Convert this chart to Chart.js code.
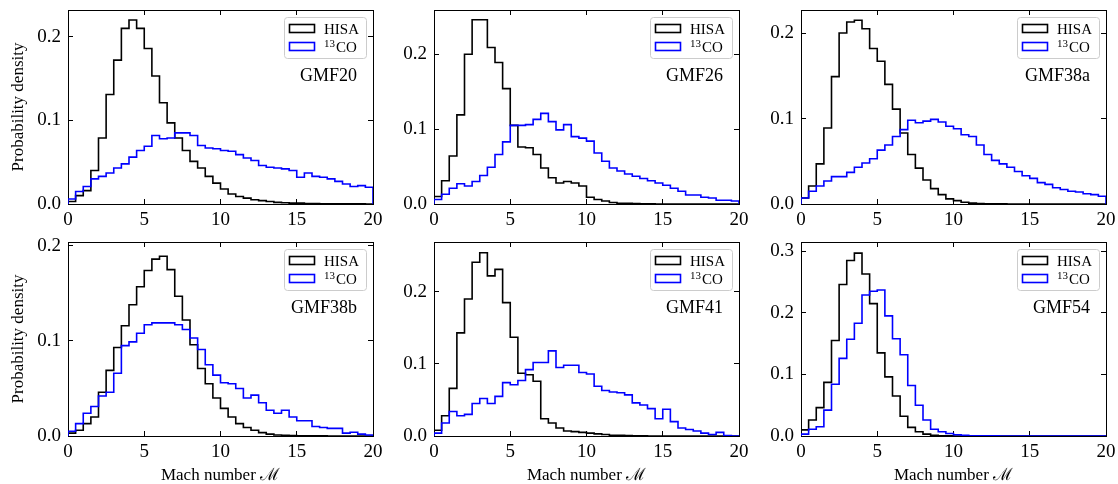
<!DOCTYPE html>
<html>
<head>
<meta charset="utf-8">
<script src="https://cdn.jsdelivr.net/npm/chart.js@4.4.1/dist/chart.umd.min.js"></script>
<style>
  html, body { margin: 0; padding: 0; background: #fff; }
  body { width: 1118px; height: 484px; position: relative; overflow: hidden; }
  canvas { position: absolute; }
</style>
</head>
<body>
<script>
// histogram bins: 40 bins of width 0.5 over Mach number 0..20
const binWidth = 0.5;
const panelNames = ["GMF20", "GMF26", "GMF38a", "GMF38b", "GMF41", "GMF54"];
const seriesLabels = ["HISA", "13CO"];
const xTickStep = 5;
const yTickStep = 0.1;
const yMaxes = [0.232, 0.259, 0.227, 0.204, 0.269, 0.315];

const hisaGMF20 = [0.003, 0.010, 0.016, 0.040, 0.079, 0.131, 0.172, 0.210, 0.220, 0.210, 0.186, 0.153, 0.121, 0.097, 0.079, 0.064, 0.051, 0.043, 0.033, 0.025, 0.018, 0.012, 0.009, 0.007, 0.005, 0.004, 0.003, 0.002, 0.0015, 0.001, 0.001, 0.0006, 0.0005, 0.0003, 0.0003, 0.0002, 0.0001, 0.0001, 0.0001, 0.0];
const co13GMF20 = [0.006, 0.015, 0.021, 0.030, 0.033, 0.037, 0.043, 0.048, 0.056, 0.064, 0.069, 0.082, 0.078, 0.079, 0.085, 0.085, 0.082, 0.070, 0.067, 0.066, 0.064, 0.063, 0.059, 0.055, 0.052, 0.046, 0.044, 0.043, 0.042, 0.040, 0.032, 0.037, 0.033, 0.032, 0.030, 0.027, 0.024, 0.021, 0.022, 0.020];

const hisaGMF26 = [0.010, 0.031, 0.064, 0.119, 0.200, 0.246, 0.246, 0.209, 0.189, 0.154, 0.105, 0.076, 0.075, 0.066, 0.048, 0.035, 0.028, 0.030, 0.028, 0.024, 0.009, 0.006, 0.004, 0.002, 0.001, 0.001, 0.0005, 0.0003, 0.0002, 0.0001, 0, 0, 0, 0, 0, 0, 0, 0, 0, 0];
const co13GMF26 = [0.006, 0.013, 0.021, 0.027, 0.024, 0.030, 0.038, 0.049, 0.066, 0.083, 0.105, 0.105, 0.106, 0.113, 0.121, 0.110, 0.099, 0.106, 0.090, 0.088, 0.084, 0.068, 0.057, 0.048, 0.044, 0.040, 0.037, 0.034, 0.031, 0.028, 0.025, 0.021, 0.017, 0.012, 0.012, 0.009, 0.008, 0.005, 0.005, 0.004];

const hisaGMF38a = [0.007, 0.021, 0.047, 0.089, 0.149, 0.200, 0.213, 0.215, 0.205, 0.182, 0.167, 0.140, 0.111, 0.083, 0.058, 0.042, 0.028, 0.018, 0.011, 0.006, 0.004, 0.002, 0.001, 0.0005, 0.0003, 0.0002, 0.0001, 0, 0, 0, 0, 0, 0, 0, 0, 0, 0, 0, 0, 0];
const co13GMF38a = [0.007, 0.015, 0.021, 0.027, 0.032, 0.032, 0.037, 0.043, 0.048, 0.053, 0.063, 0.069, 0.079, 0.087, 0.098, 0.095, 0.097, 0.099, 0.096, 0.091, 0.088, 0.081, 0.079, 0.069, 0.058, 0.051, 0.047, 0.043, 0.038, 0.033, 0.030, 0.025, 0.023, 0.019, 0.017, 0.015, 0.014, 0.012, 0.011, 0.009];

const hisaGMF38b = [0.003, 0.006, 0.013, 0.020, 0.046, 0.069, 0.093, 0.116, 0.138, 0.157, 0.174, 0.186, 0.189, 0.175, 0.147, 0.122, 0.096, 0.071, 0.055, 0.040, 0.029, 0.020, 0.013, 0.009, 0.006, 0.0035, 0.002, 0.001, 0.0007, 0.0005, 0.0003, 0.0002, 0.0001, 0.0001, 0, 0, 0, 0, 0, 0];
const co13GMF38b = [0.005, 0.013, 0.024, 0.031, 0.042, 0.046, 0.066, 0.095, 0.099, 0.108, 0.117, 0.119, 0.119, 0.119, 0.117, 0.112, 0.103, 0.091, 0.075, 0.064, 0.056, 0.055, 0.050, 0.040, 0.043, 0.035, 0.027, 0.024, 0.027, 0.020, 0.016, 0.016, 0.010, 0.009, 0.008, 0.008, 0.003, 0.004, 0.002, 0.001];

const hisaGMF41 = [0.008, 0.028, 0.066, 0.143, 0.190, 0.241, 0.254, 0.222, 0.231, 0.185, 0.137, 0.087, 0.085, 0.076, 0.024, 0.018, 0.011, 0.007, 0.006, 0.005, 0.004, 0.003, 0.002, 0.001, 0.001, 0.0005, 0.0003, 0.0002, 0.0001, 0, 0, 0, 0, 0, 0, 0, 0, 0, 0, 0];
const co13GMF41 = [0.004, 0.018, 0.034, 0.028, 0.030, 0.045, 0.052, 0.045, 0.055, 0.074, 0.071, 0.077, 0.092, 0.102, 0.102, 0.118, 0.095, 0.098, 0.098, 0.088, 0.086, 0.069, 0.063, 0.061, 0.060, 0.057, 0.046, 0.043, 0.038, 0.024, 0.037, 0.020, 0.011, 0.009, 0.007, 0.004, 0.002, 0.005, 0.0005, 0.0];

const hisaGMF54 = [0.010, 0.026, 0.046, 0.087, 0.155, 0.246, 0.285, 0.297, 0.263, 0.215, 0.135, 0.096, 0.065, 0.032, 0.014, 0.007, 0.003, 0.001, 0.0005, 0.0002, 0, 0, 0, 0, 0, 0, 0, 0, 0, 0, 0, 0, 0, 0, 0, 0, 0, 0, 0, 0];
const co13GMF54 = [0.003, 0.011, 0.015, 0.042, 0.084, 0.126, 0.157, 0.183, 0.229, 0.235, 0.237, 0.195, 0.158, 0.132, 0.082, 0.050, 0.026, 0.011, 0.007, 0.004, 0.002, 0.001, 0.0005, 0.0003, 0.0002, 0.0002, 0.0001, 0.0001, 0.0001, 0.0001, 0, 0, 0, 0, 0, 0, 0, 0, 0, 0];

const panelSeries = [
  [hisaGMF20, co13GMF20],
  [hisaGMF26, co13GMF26],
  [hisaGMF38a, co13GMF38a],
  [hisaGMF38b, co13GMF38b],
  [hisaGMF41, co13GMF41],
  [hisaGMF54, co13GMF54]
];

// layout (pixels) of the 2x3 grid
const areaLefts = [68, 434, 801];
const areaTops = [10, 242];
const areaW = 305, areaH = 194;
const padLeft = 68, padTop = 10, padRight = 12;
const FONT = "Liberation Serif";
const seriesColors = ["#000000", "#0000ff"];

// step outline like matplotlib histtype="step"
function stepPoints(values) {
  const pts = [{ x: 0, y: 0 }];
  values.forEach((v, i) => pts.push({ x: i * binWidth, y: v }));
  pts.push({ x: values.length * binWidth, y: 0 });
  return pts;
}

// legend text, with a leading isotope number drawn as superscript
function drawLabel(ctx, text, x, y) {
  const m = text.match(/^(\d+)(.*)$/);
  ctx.textAlign = "left";
  ctx.textBaseline = "alphabetic";
  if (m) {
    ctx.font = "11px '" + FONT + "'";
    ctx.fillText(m[1], x, y - 5);
    x += ctx.measureText(m[1]).width + 1;
    text = m[2];
  }
  ctx.font = "15px '" + FONT + "'";
  ctx.fillText(text, x, y);
}

const panelLegend = {
  id: "panelLegend",
  afterDatasetsDraw(chart, args, opts) {
    const { ctx, chartArea: a } = chart;
    const w = 82, h = 41;
    const x0 = Math.round(a.right - 7 - w), y0 = Math.round(a.top + 7);
    ctx.save();
    ctx.beginPath();
    ctx.roundRect(x0 + 0.5, y0 + 0.5, w, h, 3);
    ctx.fillStyle = "rgba(255,255,255,0.8)";
    ctx.fill();
    ctx.strokeStyle = "#cccccc";
    ctx.lineWidth = 1;
    ctx.stroke();
    chart.data.datasets.forEach((ds, i) => {
      const cy = y0 + 11.5 + i * 18;
      ctx.strokeStyle = ds.borderColor;
      ctx.lineWidth = ds.borderWidth;
      ctx.strokeRect(x0 + 5.5, cy - 4, 25, 8);
      ctx.fillStyle = "#000";
      drawLabel(ctx, ds.label, x0 + 40, cy + 5);
    });
    ctx.font = "18px '" + FONT + "'";
    ctx.textAlign = "right";
    ctx.textBaseline = "middle";
    ctx.fillStyle = "#000";
    ctx.fillText(opts.name, a.right - 16, a.top + 66);
    ctx.restore();
  }
};

function tickGrid() {
  return { drawOnChartArea: false, drawTicks: true, tickLength: -5, color: "#000", tickColor: "#000", lineWidth: 1 };
}
const border = { display: true, color: "#000", width: 1 };
function noPad(s) { s.paddingLeft = 0; s.paddingRight = 0; s.paddingTop = 0; s.paddingBottom = 0; }

panelNames.forEach((name, i) => {
  const col = i % 3, row = Math.floor(i / 3);
  const bottomH = row === 1 ? 48 : 30;
  const cv = document.createElement("canvas");
  cv.width = padLeft + areaW + padRight;
  cv.height = padTop + areaH + bottomH;
  cv.style.left = (areaLefts[col] - padLeft) + "px";
  cv.style.top = (areaTops[row] - padTop) + "px";
  document.body.appendChild(cv);

  const [h, c] = panelSeries[i];
  new Chart(cv, {
    type: "line",
    data: {
      datasets: [h, c].map((vals, k) => ({
        label: seriesLabels[k],
        data: stepPoints(vals),
        borderColor: seriesColors[k],
        backgroundColor: "rgba(0,0,0,0)",
        borderWidth: 1.6,
        stepped: true,
        pointRadius: 0,
        fill: false,
        order: 1 - k
      }))
    },
    options: {
      responsive: false,
      animation: false,
      devicePixelRatio: 1,
      layout: { padding: { left: 0, top: padTop, right: padRight, bottom: 0 } },
      plugins: {
        legend: { display: false },
        tooltip: { enabled: false },
        panelLegend: { name: name }
      },
      scales: {
        x: {
          type: "linear", position: "bottom", min: 0, max: 20,
          ticks: { stepSize: xTickStep, color: "#000", padding: 10, maxRotation: 0, autoSkip: false,
                   font: { family: FONT, size: 19 }, callback: v => String(v) },
          grid: tickGrid(), border: border,
          title: { display: row === 1, text: "Mach number \u2133", color: "#000",
                   font: { family: FONT, size: 17, lineHeight: 1 }, padding: { top: 0, bottom: 0 } },
          afterFit: s => { s.height = bottomH; noPad(s); }
        },
        x2: {
          type: "linear", position: "top", min: 0, max: 20,
          ticks: { stepSize: xTickStep, display: false },
          grid: tickGrid(), border: border,
          afterFit: s => { s.height = 0; noPad(s); }
        },
        y: {
          type: "linear", position: "left", min: 0, max: yMaxes[i],
          ticks: { stepSize: yTickStep, includeBounds: false, color: "#000", padding: 12,
                   font: { family: FONT, size: 19 }, callback: v => v.toFixed(1) },
          grid: tickGrid(), border: border,
          title: { display: col === 0, text: "Probability density", color: "#000",
                   font: { family: FONT, size: 17, lineHeight: 1.2 }, padding: { top: 8, bottom: 0 } },
          afterFit: s => { s.width = padLeft; noPad(s); }
        },
        y2: {
          type: "linear", position: "right", min: 0, max: yMaxes[i],
          ticks: { stepSize: yTickStep, includeBounds: false, display: false },
          grid: tickGrid(), border: border,
          afterFit: s => { s.width = 0; noPad(s); }
        }
      }
    },
    plugins: [panelLegend]
  });
});
</script>
</body>
</html>
